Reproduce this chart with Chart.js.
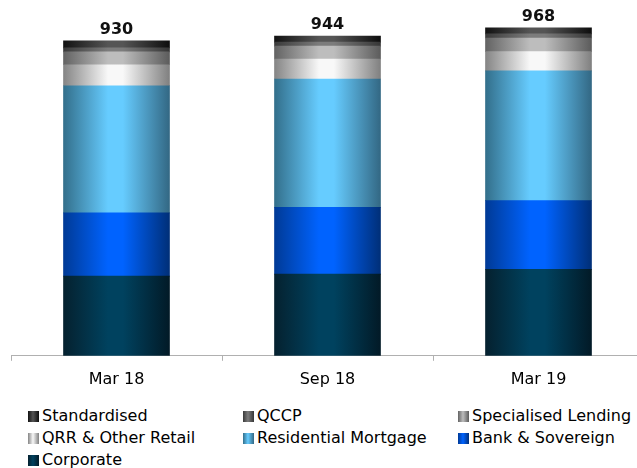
<!DOCTYPE html>
<html lang="en">
<head>
<meta charset="UTF-8" />
<title>RWA by Portfolio</title>
<script src="https://cdn.jsdelivr.net/npm/chart.js"></script>
<style>
  body { margin: 0; background: #fff; font-family: 'DejaVu Sans', sans-serif; }
  #wrap { position: relative; width: 637px; height: 468px; overflow: hidden; }
  #chartBox { position: absolute; left: 0; top: 0; width: 652px; height: 398px; }
  #legend {
    position: absolute; left: 28px; top: 405px;
    display: grid; grid-template-columns: 215px 215px auto;
    font-size: 16px; line-height: 22px; color: #000;
  }
  .item { display: flex; align-items: center; white-space: nowrap; }
  .swatch { width: 11px; height: 11px; margin-right: 3px; }
</style>
</head>
<body>
<div id="wrap">
  <div id="chartBox"><canvas id="rwaChart"></canvas></div>
  <div id="legend"></div>
</div>

<script>
  // Periods and portfolio values (bottom of the stack first)
  const categories = ['Mar 18', 'Sep 18', 'Mar 19'];
  const corporate = [235, 241, 255];
  const bankSovereign = [187, 197, 203];
  const residentialMortgage = [375, 379, 383];
  const qrrOtherRetail = [62, 59, 57];
  const specialisedLending = [38, 38, 40];
  const qccp = [12, 12, 12];
  const standardised = [21, 18, 18];

  const BAR_WIDTH = 106;

  // left edge, highlight, right edge
  const series = [
    { label: 'Corporate', data: corporate, shade: ['#05212f', '#00425f', '#021a27'] },
    { label: 'Bank & Sovereign', data: bankSovereign, shade: ['#003a96', '#0063ff', '#002f78'] },
    { label: 'Residential Mortgage', data: residentialMortgage, shade: ['#336f8b', '#66ccff', '#336884'] },
    { label: 'QRR & Other Retail', data: qrrOtherRetail, shade: ['#858585', '#f8f8f8', '#808080'] },
    { label: 'Specialised Lending', data: specialisedLending, shade: ['#636363', '#bdbdbd', '#5c5c5c'] },
    { label: 'QCCP', data: qccp, shade: ['#3a3a3a', '#7c7c7c', '#363636'] },
    { label: 'Standardised', data: standardised, shade: ['#121212', '#555555', '#0e0e0e'] }
  ];

  // horizontal "cylinder" shading across each bar
  function barFill(shade) {
    return ctx => {
      const chart = ctx.chart;
      const x = chart.scales.x;
      if (ctx.type !== 'data' || !x || !chart.chartArea) return shade[1];
      const cx = x.getPixelForValue(ctx.dataIndex);
      const g = chart.ctx.createLinearGradient(cx - BAR_WIDTH / 2, 0, cx + BAR_WIDTH / 2, 0);
      g.addColorStop(0, shade[0]);
      g.addColorStop(0.42, shade[1]);
      g.addColorStop(0.56, shade[1]);
      g.addColorStop(1, shade[2]);
      return g;
    };
  }

  // totals above each stack
  const totalsPlugin = {
    id: 'totals',
    afterDatasetsDraw(chart) {
      const { ctx, scales } = chart;
      ctx.save();
      ctx.font = 'bold 16px "DejaVu Sans"';
      ctx.fillStyle = '#111';
      ctx.textAlign = 'center';
      ctx.textBaseline = 'alphabetic';
      categories.forEach((c, i) => {
        const total = series.reduce((s, d) => s + d.data[i], 0);
        ctx.fillText(String(total), scales.x.getPixelForValue(i), scales.y.getPixelForValue(total) - 7);
      });
      ctx.restore();
    }
  };

  new Chart(document.getElementById('rwaChart'), {
    type: 'bar',
    data: {
      labels: categories,
      datasets: series.map(s => ({
        label: s.label,
        data: s.data,
        backgroundColor: barFill(s.shade),
        borderWidth: 0,
        barThickness: BAR_WIDTH
      }))
    },
    options: {
      responsive: true,
      maintainAspectRatio: false,
      animation: false,
      layout: { padding: { left: 11, right: 8, top: 17, bottom: 0 } },
      plugins: { legend: { display: false }, tooltip: { enabled: false } },
      scales: {
        x: {
          stacked: true,
          grid: { drawOnChartArea: false, tickLength: 5, color: '#b0b0b0', offset: true },
          border: { color: '#b0b0b0' },
          ticks: { color: '#000', padding: 9, font: { family: 'DejaVu Sans', size: 16 } }
        },
        y: { stacked: true, display: false, min: 0, max: 1000 }
      }
    },
    plugins: [totalsPlugin]
  });

  // legend in three columns, top of the stack first
  const legend = document.getElementById('legend');
  series.slice().reverse().forEach(s => {
    const item = document.createElement('div');
    item.className = 'item';
    item.innerHTML = `<span class="swatch" style="background: linear-gradient(to right, ${s.shade[0]}, ${s.shade[1]} 45%, ${s.shade[2]})"></span>${s.label}`;
    legend.appendChild(item);
  });
</script>
</body>
</html>
